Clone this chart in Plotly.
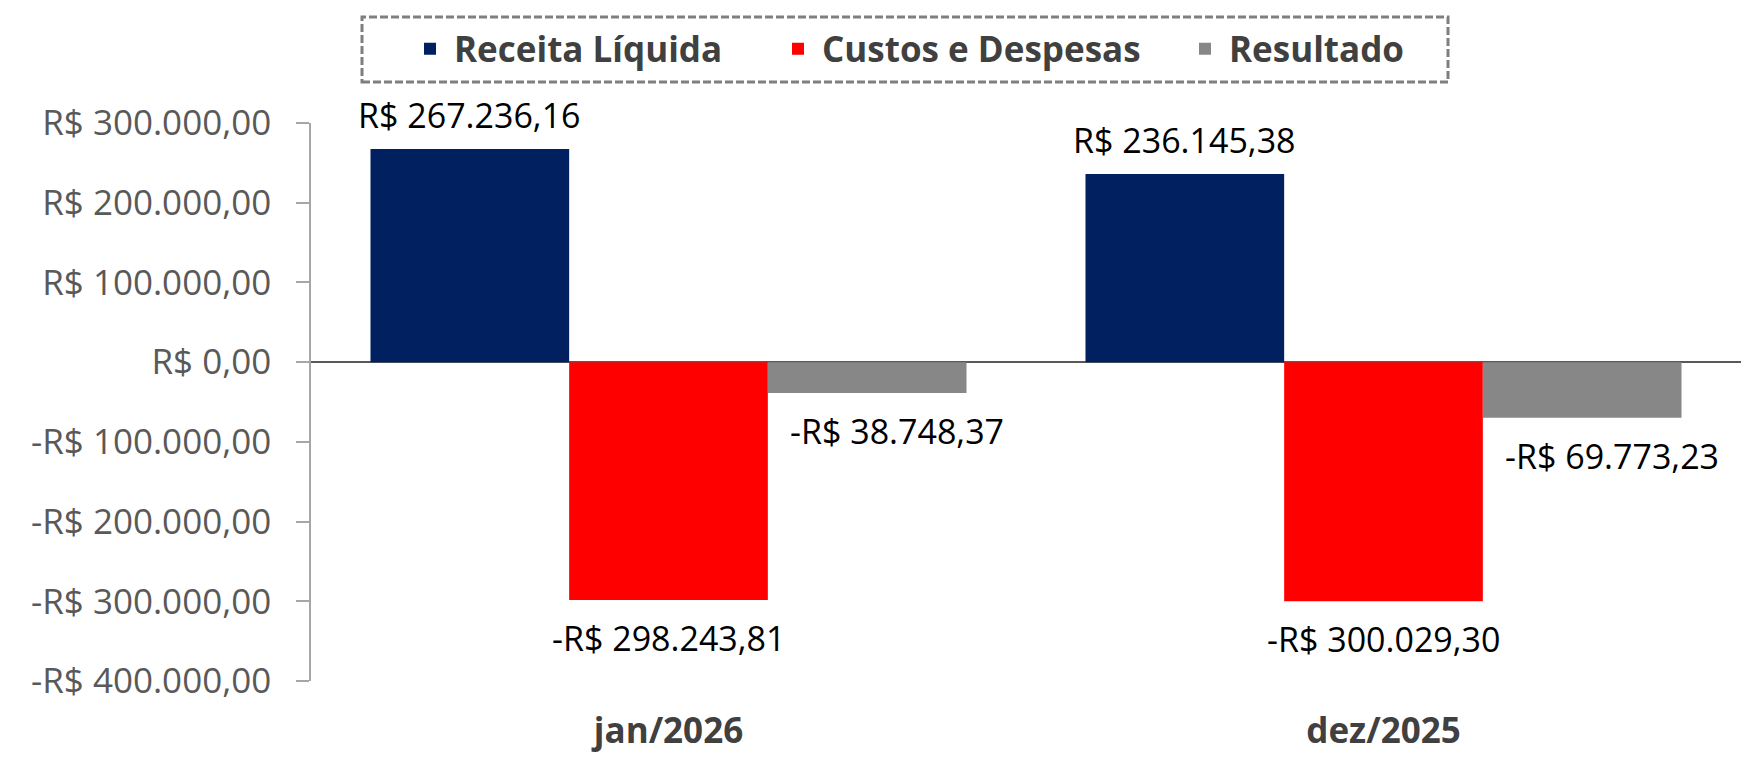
import plotly.graph_objects as go

categories = ["jan/2026", "dez/2025"]
series_names = ["Receita Líquida", "Custos e Despesas", "Resultado"]
receita_liquida = [267236.16, 236145.38]
custos_despesas = [-298243.81, -300029.30]
resultado = [-38748.37, -69773.23]
series_colors = ["#002060", "#FF0000", "#878787"]
y_tick_values = [300000, 200000, 100000, 0, -100000, -200000, -300000, -400000]
y_tick_labels = ["R$ 300.000,00", "R$ 200.000,00", "R$ 100.000,00", "R$ 0,00",
                 "-R$ 100.000,00", "-R$ 200.000,00", "-R$ 300.000,00", "-R$ 400.000,00"]


def brl(v):
    s = f"{abs(v):,.2f}".replace(",", "X").replace(".", ",").replace("X", ".")
    return ("-R$ " if v < 0 else "R$ ") + s


FONT = "Open Sans"
W, H = 1752, 757
ML, MR, MT, MB = 311, 11, 123, 76
BARGAP = 0.1664
LEGEND_ENTRY_WIDTHS = [315, 354, None]

series_values = [receita_liquida, custos_despesas, resultado]

fig = go.Figure()
for name, vals, col, lw in zip(series_names, series_values, series_colors, LEGEND_ENTRY_WIDTHS):
    fig.add_trace(go.Bar(
        name=name, x=categories, y=vals, marker=dict(color=col, line=dict(width=0)),
        hoverinfo="skip", legendwidth=lw,
    ))

# data labels as annotations anchored to each bar via the axes
bar_w = (1 - BARGAP) / len(series_values)
annotations = []
for k, vals in enumerate(series_values):
    offset = (k - (len(series_values) - 1) / 2) * bar_w
    for i, v in enumerate(vals):
        annotations.append(dict(
            x=i + offset, y=v, xref="x", yref="y", text=brl(v), showarrow=False,
            xanchor="center", yanchor="bottom" if v >= 0 else "top",
            yshift=9 if v >= 0 else -13,
            xshift=30 if k == 2 else 0,
            font=dict(family=FONT, size=34, color="#000000"),
        ))

pw = W - ML - MR
ph = H - MT - MB


def px2paper_x(px):
    return (px - ML) / pw


def px2paper_y(py):
    return (H - MB - py) / ph


fig.update_layout(
    width=W, height=H, autosize=False,
    margin=dict(l=ML, r=MR, t=MT, b=MB, pad=0, autoexpand=False),
    paper_bgcolor="white", plot_bgcolor="white",
    barmode="group", bargap=BARGAP, bargroupgap=0,
    font=dict(family=FONT, color="#404040"),
    showlegend=True,
    legend=dict(
        orientation="h", x=px2paper_x(406), xanchor="left",
        y=px2paper_y(49), yanchor="middle", itemwidth=38,
        font=dict(family=FONT, size=35, color="#404040", weight="bold"),
        bgcolor="rgba(0,0,0,0)", borderwidth=0, traceorder="normal",
    ),
    annotations=annotations,
    shapes=[dict(
        type="rect", xref="paper", yref="paper",
        x0=px2paper_x(362), x1=px2paper_x(1448),
        y0=px2paper_y(82), y1=px2paper_y(17),
        line=dict(color="#7f7f7f", width=3, dash="8px,3px"),
        fillcolor="rgba(0,0,0,0)", layer="above",
    )],
    xaxis=dict(
        type="category", showline=False, ticks="", showgrid=False, zeroline=False,
        tickfont=dict(family=FONT, size=35, color="#404040", weight="bold"),
        ticklabelstandoff=26,
    ),
    yaxis=dict(
        range=[-400000, 300000], tickvals=y_tick_values, ticktext=y_tick_labels,
        ticks="outside", ticklen=13, tickwidth=1.5, tickcolor="#a6a6a6",
        showline=True, linecolor="#a6a6a6", linewidth=1.5,
        showgrid=False, zeroline=True, zerolinecolor="#595959", zerolinewidth=2,
        tickfont=dict(family=FONT, size=35, color="#595959"),
        ticklabelstandoff=18,
    ),
)

fig.write_html("out.html")
